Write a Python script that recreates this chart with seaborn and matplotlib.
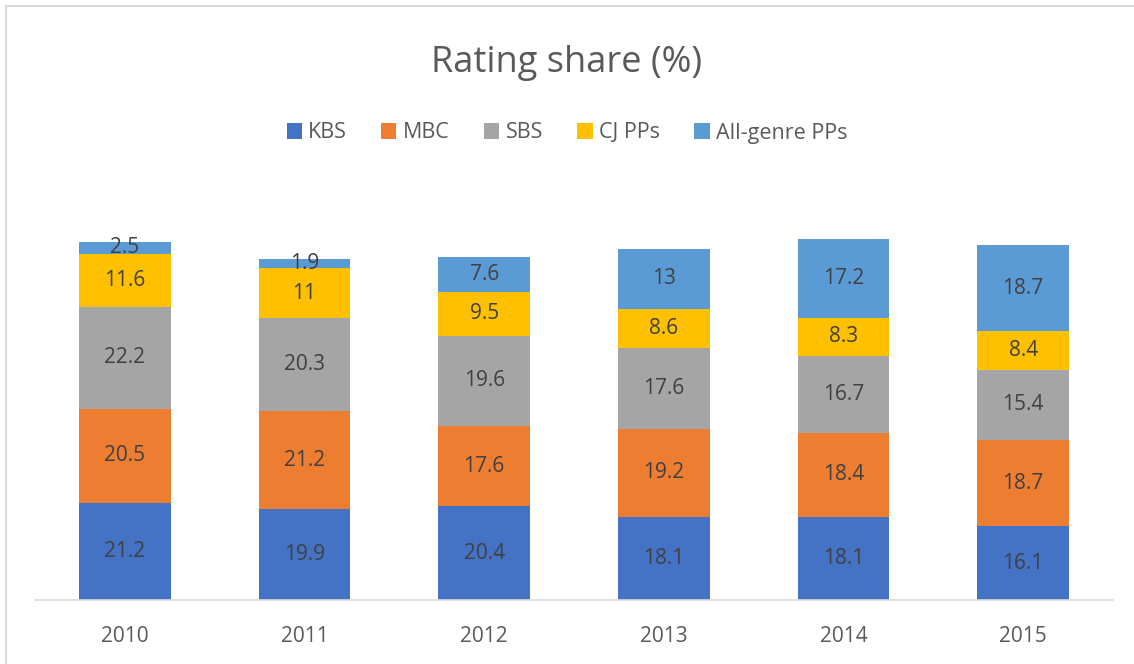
import numpy as np
import pandas as pd
import seaborn as sns
import matplotlib.pyplot as plt
from matplotlib.lines import Line2D
from matplotlib.patches import Patch

years = ['2010', '2011', '2012', '2013', '2014', '2015']
series = ['KBS', 'MBC', 'SBS', 'CJ PPs', 'All-genre PPs']
kbs = [21.2, 19.9, 20.4, 18.1, 18.1, 16.1]
mbc = [20.5, 21.2, 17.6, 19.2, 18.4, 18.7]
sbs = [22.2, 20.3, 19.6, 17.6, 16.7, 15.4]
cj = [11.6, 11, 9.5, 8.6, 8.3, 8.4]
allgenre = [2.5, 1.9, 7.6, 13, 17.2, 18.7]
colors = ['#4472C4', '#ED7D31', '#A5A5A5', '#FFC000', '#5B9BD5']

sns.set_style('white')
plt.rcParams['font.family'] = ['Open Sans', 'DejaVu Sans']

df = pd.DataFrame({'Year': years, 'KBS': kbs, 'MBC': mbc, 'SBS': sbs,
                   'CJ PPs': cj, 'All-genre PPs': allgenre})

fig = plt.figure(figsize=(11.34, 6.64), dpi=100)
ax = fig.add_axes([35/1134, 64/664, 1078/1134, (600-187)/664])

bottom = np.zeros(len(years))
for s, c in zip(series, colors):
    sns.barplot(data=df, x='Year', y=s, color=c, bottom=bottom, width=0.51,
                ax=ax, saturation=1, linewidth=0)
    bottom = bottom + df[s].values

for cont in ax.containers:
    labels = [f'{v:g}' for v in cont.datavalues]
    ax.bar_label(cont, labels=labels, label_type='center', fontsize=15,
                 color='#404040')

ax.set_ylim(0, 90)
ax.set_xlim(-0.5, 5.5)
ax.set_xlabel('')
ax.set_ylabel('')
ax.set_yticks([])
ax.tick_params(axis='x', length=0, labelsize=15, labelcolor='#595959', pad=19)
for sp in ['top', 'right', 'left']:
    ax.spines[sp].set_visible(False)
ax.spines['bottom'].set_color('#D9D9D9')
ax.spines['bottom'].set_linewidth(1.2)

fig.text(0.5, 1 - 63/664, 'Rating share (%)', ha='center', va='center',
         fontsize=26, color='#595959')

handles = [Patch(facecolor=c, edgecolor='none') for c in colors]
fig.legend(handles, series, loc='center', bbox_to_anchor=(0.5, 1 - 133/664),
           ncol=5, frameon=False, fontsize=15.5, labelcolor='#595959',
           handlelength=0.7, handleheight=0.7, handletextpad=0.3,
           columnspacing=1.6)

# chart area border (top and left visible)
fig.add_artist(Line2D([6/1134, 1], [1 - 6/664, 1 - 6/664], color='#D9D9D9',
                      lw=1.5, transform=fig.transFigure))
fig.add_artist(Line2D([6/1134, 6/1134], [0, 1 - 6/664], color='#D9D9D9',
                      lw=1.5, transform=fig.transFigure))

fig.savefig('out.png', dpi=100)
